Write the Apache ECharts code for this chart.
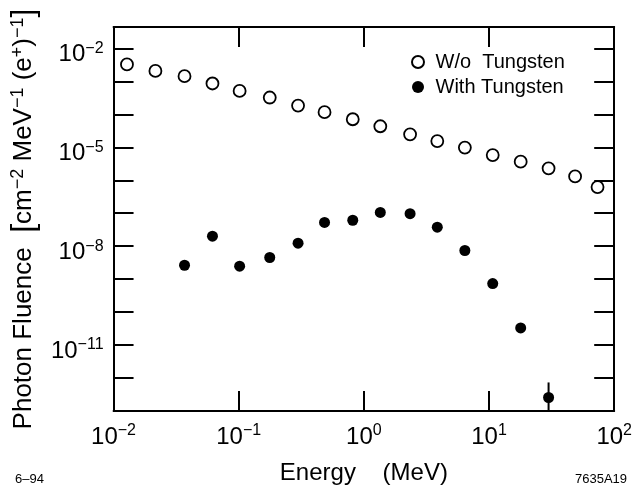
<!DOCTYPE html>
<html>
<head>
<meta charset="utf-8">
<script src="https://cdn.jsdelivr.net/npm/echarts@6/dist/echarts.min.js"></script>
<style>
html,body{margin:0;padding:0;background:#fff;}
#chart{width:635px;height:496px;}
</style>
</head>
<body>
<div id="chart"></div>
<script>
// Energy values (MeV) of the bins
const energyOpen = [0.0128, 0.0216, 0.0369, 0.0617, 0.1017, 0.177, 0.298, 0.485, 0.815, 1.353, 2.34, 3.86, 6.41, 10.7, 17.9, 29.9, 48.7, 73.6];
// Photon fluence without tungsten
const fluenceOpen = [3.26e-3, 2.08e-3, 1.44e-3, 8.63e-4, 5.14e-4, 3.24e-4, 1.85e-4, 1.16e-4, 7.1e-5, 4.35e-5, 2.48e-5, 1.55e-5, 9.8e-6, 5.83e-6, 3.67e-6, 2.30e-6, 1.31e-6, 6.21e-7];
// Energy values for tungsten series
const energyFilled = [0.0369, 0.0617, 0.1017, 0.177, 0.298, 0.485, 0.815, 1.353, 2.34, 3.86, 6.41, 10.7, 17.9, 29.9];
// Photon fluence with tungsten
const fluenceFilled = [2.64e-9, 2.01e-8, 2.47e-9, 4.54e-9, 1.23e-8, 5.25e-8, 6.12e-8, 1.06e-7, 9.66e-8, 3.78e-8, 7.40e-9, 7.35e-10, 3.31e-11, 2.57e-13];
// Error bar on last tungsten point: [energy, upper, lower]
const errorBar = [29.9, 7.35e-13, 1e-13];

const seriesNames = ['W/o  Tungsten', 'With Tungsten'];
const xTitle = 'Energy    (MeV)';
const noteLeft = '6\u201394';
const noteRight = '7635A19';

const FONT = '"Liberation Sans", Arial, Helvetica, sans-serif';
const MINUS = '\u2212';

function expLabel(v) {
  const e = Math.round(Math.log10(v));
  if (Math.abs(Math.log10(v) - e) > 1e-6) return '';
  return '{b|10}{sup|' + (e < 0 ? MINUS + (-e) : String(e)) + '}';
}

const supRich = {
  b: {fontSize: 24, lineHeight: 28, fontFamily: FONT, color: '#000'},
  sup: {fontSize: 16, lineHeight: 16, verticalAlign: 'top', fontFamily: FONT, color: '#000'}
};

const axisLineStyle = {show: true, onZero: false, lineStyle: {color: '#000', width: 2}};
const tickStyle = {show: true, inside: true, length: 20, lineStyle: {color: '#000', width: 2}};

const chart = echarts.init(document.getElementById('chart'), null, {renderer: 'canvas'});
const option = {
  backgroundColor: '#fff',
  animation: false,
  textStyle: {fontFamily: FONT},
  grid: {left: 113, right: 19, top: 27, bottom: 85, containLabel: false},
  legend: {
    data: seriesNames,
    orient: 'vertical',
    left: 406, top: 47,
    itemWidth: 25, itemHeight: 12, itemGap: 5,
    textStyle: {fontSize: 20, lineHeight: 20, color: '#000', fontFamily: FONT},
    selectedMode: false
  },
  xAxis: [{
    type: 'log', logBase: 10, min: 0.01, max: 100, position: 'bottom',
    axisLine: axisLineStyle, axisTick: tickStyle,
    splitLine: {show: false}, minorTick: {show: false},
    axisLabel: {formatter: expLabel, rich: supRich, margin: 12, color: '#000'},
    name: xTitle, nameLocation: 'middle', nameGap: 50,
    nameTextStyle: {fontSize: 24, color: '#000', fontFamily: FONT}
  }, {
    type: 'log', logBase: 10, min: 0.01, max: 100, position: 'top',
    axisLine: axisLineStyle, axisTick: tickStyle,
    splitLine: {show: false}, axisLabel: {show: false}
  }],
  yAxis: [{
    type: 'log', logBase: 10, min: 1e-13, max: Math.pow(10, -1.35), interval: 1, position: 'left',
    axisLine: axisLineStyle, axisTick: tickStyle,
    splitLine: {show: false}, minorTick: {show: false},
    axisLabel: {
      formatter: function (v) {
        const e = Math.round(Math.log10(v));
        if (Math.abs(Math.log10(v) - e) > 1e-6) return '';
        if (e % 3 !== -2) return '';
        return expLabel(v);
      },
      rich: supRich, margin: 10, padding: [12, 0, 0, 0], color: '#000'
    },
    name: 'Photon Fluence  {br|[}cm{sup|' + MINUS + '2} MeV{sup|' + MINUS + '1} (e{sup|+}){sup|' + MINUS + '1}{br|]}',
    nameLocation: 'middle', nameGap: 71,
    nameTextStyle: {
      fontSize: 26, lineHeight: 30, color: '#000', fontFamily: FONT,
      rich: {
        br: {fontSize: 32, lineHeight: 30, fontFamily: FONT, color: '#000'},
        sup: {fontSize: 18, lineHeight: 18, verticalAlign: 'top', fontFamily: FONT, color: '#000'}
      }
    }
  }, {
    type: 'log', logBase: 10, min: 1e-13, max: Math.pow(10, -1.35), interval: 1, position: 'right',
    axisLine: axisLineStyle, axisTick: tickStyle,
    splitLine: {show: false}, axisLabel: {show: false}
  }],
  series: [{
    name: seriesNames[0], type: 'scatter', xAxisIndex: 0, yAxisIndex: 0,
    symbol: 'circle', symbolSize: 12,
    itemStyle: {color: '#fff', borderColor: '#000', borderWidth: 1.8, opacity: 1},
    data: energyOpen.map((x, i) => [x, fluenceOpen[i]])
  }, {
    name: seriesNames[1], type: 'scatter', xAxisIndex: 0, yAxisIndex: 0,
    symbol: 'circle', symbolSize: 11,
    itemStyle: {color: '#000', opacity: 1},
    data: energyFilled.map((x, i) => [x, fluenceFilled[i]])
  }, {
    name: 'error', type: 'line', xAxisIndex: 0, yAxisIndex: 0,
    showSymbol: false, symbol: 'none', silent: true, clip: true,
    lineStyle: {color: '#000', width: 2},
    data: [[errorBar[0], errorBar[1]], [errorBar[0], errorBar[2]]]
  }],
  graphic: [{
    type: 'text', left: 15, top: 473,
    style: {text: noteLeft, font: '13px ' + FONT, fill: '#000'}
  }, {
    type: 'text', left: 575, top: 473,
    style: {text: noteRight, font: '13px ' + FONT, fill: '#000'}
  }]
};
chart.setOption(option);
</script>
</body>
</html>
